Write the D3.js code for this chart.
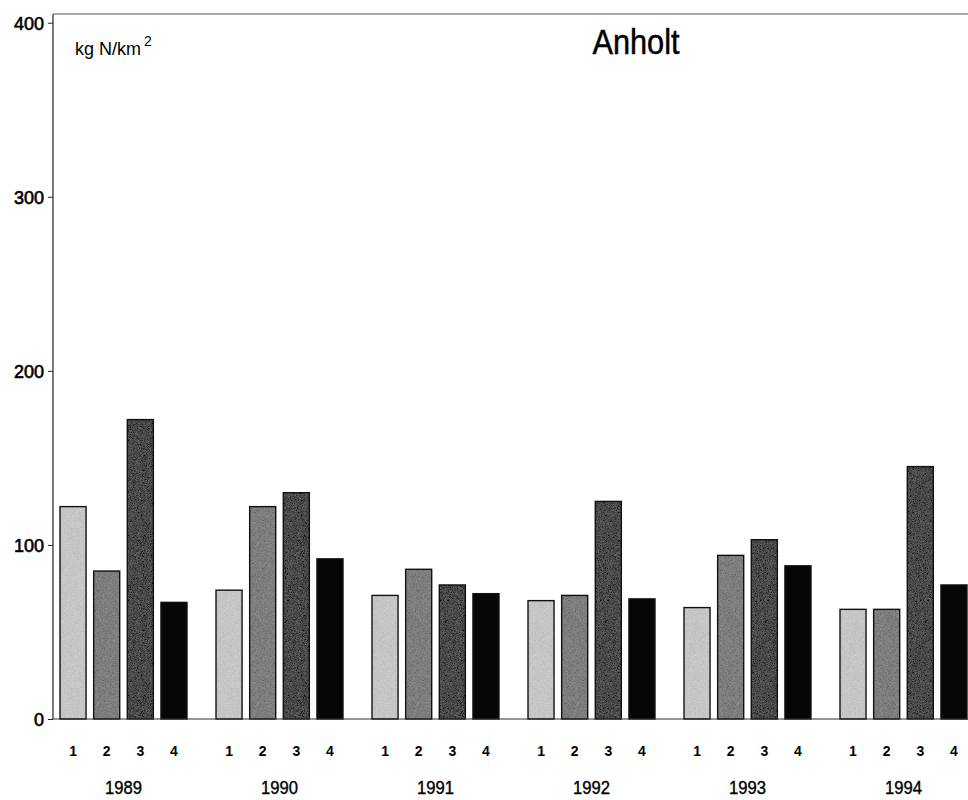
<!DOCTYPE html>
<html>
<head>
<meta charset="utf-8">
<script src="https://cdn.jsdelivr.net/npm/d3@7"></script>
<style>
  html, body { margin: 0; padding: 0; background: #fff; }
  svg { display: block; }
  text { font-family: "Liberation Sans", Arial, Helvetica, sans-serif; fill: #000; }
</style>
</head>
<body>
<svg id="chart" width="968" height="800"></svg>
<script>
// Quarterly nitrogen deposition at Anholt (kg N/km²)
const years = ["1989", "1990", "1991", "1992", "1993", "1994"];
const quarters = ["1", "2", "3", "4"];
const values1989 = [122, 85, 172, 67];
const values1990 = [74, 122, 130, 92];
const values1991 = [71, 86, 77, 72];
const values1992 = [68, 71, 125, 69];
const values1993 = [64, 94, 103, 88];
const values1994 = [63, 63, 145, 77];
const yTicks = [0, 100, 200, 300, 400];
const quarterFills = ["#c6c6c6", "#7e7e7e", "#4a4a4a", "#060606"];

const seriesByYear = [values1989, values1990, values1991, values1992, values1993, values1994];
const rows = [];
years.forEach((yr, i) => quarters.forEach((q, j) => rows.push({ year: yr, q, qi: j, value: seriesByYear[i][j] })));

const svg = d3.select("#chart");
const axisX = 53;

const y = d3.scaleLinear().domain([0, 405]).range([719, 14]);
const x0 = d3.scaleBand().domain(years).range([axisX, 974]).paddingInner(0.186).paddingOuter(0.045);
const x1 = d3.scaleBand().domain(quarters).range([0, x0.bandwidth()]).paddingInner(0.226).paddingOuter(0);

// fine stipple texture for the shaded bars
const defs = svg.append("defs");
const f = defs.append("filter").attr("id", "grain").attr("x", 0).attr("y", 0).attr("width", 1).attr("height", 1);
f.append("feTurbulence").attr("type", "fractalNoise").attr("baseFrequency", 1.6).attr("numOctaves", 1).attr("seed", 7).attr("result", "n");
f.append("feColorMatrix").attr("in", "n").attr("type", "matrix")
  .attr("values", "0.33 0.33 0.33 0 0  0.33 0.33 0.33 0 0  0.33 0.33 0.33 0 0  0 0 0 0 1").attr("result", "g");
f.append("feComposite").attr("in", "SourceGraphic").attr("in2", "g").attr("operator", "arithmetic")
  .attr("k1", 0).attr("k2", 1).attr("k3", 0.45).attr("k4", -0.225).attr("result", "m");
f.append("feComposite").attr("in", "m").attr("in2", "SourceAlpha").attr("operator", "in");

// bars
const bars = svg.append("g");
bars.selectAll("rect.fill").data(rows).join("rect")
  .attr("class", "fill")
  .attr("x", d => x0(d.year) + x1(d.q))
  .attr("y", d => y(d.value))
  .attr("width", x1.bandwidth())
  .attr("height", d => y(0) - y(d.value))
  .attr("fill", d => quarterFills[d.qi])
  .attr("filter", d => d.qi < 3 ? "url(#grain)" : null);
bars.selectAll("rect.edge").data(rows).join("rect")
  .attr("class", "edge")
  .attr("x", d => x0(d.year) + x1(d.q))
  .attr("y", d => y(d.value))
  .attr("width", x1.bandwidth())
  .attr("height", d => y(0) - y(d.value))
  .attr("fill", "none")
  .attr("stroke", "#111")
  .attr("stroke-width", 1.4);

// y axis
const yAxis = d3.axisLeft(y).tickValues(yTicks).tickSize(5).tickSizeOuter(0).tickPadding(4);
const gy = svg.append("g").attr("transform", `translate(${axisX},0)`).call(yAxis);
gy.select(".domain").attr("stroke", "#222").attr("stroke-width", 1.2).attr("d", `M0,${y(0)}V${y(405)}`);
gy.selectAll(".tick line").attr("stroke", "#222");
gy.selectAll(".tick text").attr("font-size", 18).attr("font-family", "Liberation Sans, Arial, sans-serif").attr("fill", "#000")
  .attr("stroke", "#000").attr("stroke-width", 0.6).attr("dy", "0.36em");

// frame: baseline and top rule
svg.append("line").attr("x1", axisX).attr("x2", 968).attr("y1", y(0)).attr("y2", y(0)).attr("stroke", "#333").attr("stroke-width", 1.2);
svg.append("line").attr("x1", axisX).attr("x2", 968).attr("y1", y(405)).attr("y2", y(405)).attr("stroke", "#555").attr("stroke-width", 1);

// quarter labels
svg.append("g").selectAll("text").data(rows).join("text")
  .attr("x", d => x0(d.year) + x1(d.q) + x1.bandwidth() / 2)
  .attr("y", 756)
  .attr("text-anchor", "middle")
  .attr("font-size", 14)
  .attr("font-weight", "bold")
  .text(d => d.q);

// year labels
svg.append("g").selectAll("text").data(years).join("text")
  .attr("x", d => x0(d) + x0.bandwidth() / 2)
  .attr("y", 794)
  .attr("text-anchor", "middle")
  .attr("font-size", 19)
  .attr("stroke", "#000").attr("stroke-width", 0.4)
  .attr("textLength", 37)
  .attr("lengthAdjust", "spacingAndGlyphs")
  .text(d => d);

// unit label
const unit = svg.append("text").attr("x", 75).attr("y", 55).attr("font-size", 18);
unit.append("tspan").text("kg  N/km");
unit.append("tspan").attr("font-size", 14).attr("dy", -9).attr("dx", 3).text("2");

// title
svg.append("text").attr("x", 636).attr("y", 54).attr("text-anchor", "middle")
  .attr("font-size", 35).attr("stroke", "#000").attr("stroke-width", 0.5)
  .attr("textLength", 87).attr("lengthAdjust", "spacingAndGlyphs")
  .text("Anholt");
</script>
</body>
</html>
